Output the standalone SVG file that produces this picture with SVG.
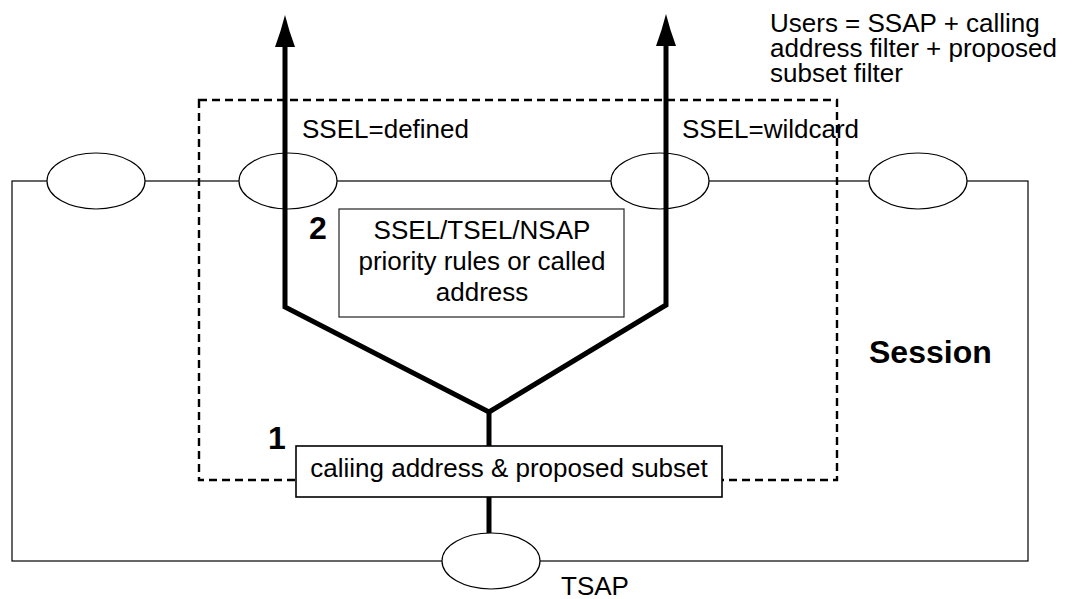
<svg xmlns="http://www.w3.org/2000/svg" width="1075" height="599" viewBox="0 0 1075 599">
  <style>
    .frame { fill: none; stroke: #000; stroke-width: 1.2; }
    .sap { fill: #fff; stroke: #000; stroke-width: 1.2; }
    .scope { fill: none; stroke: #000; stroke-width: 2.4; stroke-dasharray: 8 5; }
    .box { fill: #fff; stroke: #222; stroke-width: 1.2; }
    .box1 { fill: #fff; stroke: #000; stroke-width: 1.6; }
    .flow { fill: none; stroke: #000; stroke-width: 5; stroke-linejoin: miter; }
    .t { font-family: "Liberation Sans", Arial, Helvetica, sans-serif; font-size: 26px; fill: #000; }
    .b { font-family: "Liberation Sans", Arial, Helvetica, sans-serif; font-size: 32px; font-weight: bold; fill: #000; }
    .c { text-anchor: middle; }
  </style>
  <defs>
    <marker id="head" viewBox="0 0 32 20" refX="1" refY="10" markerWidth="32" markerHeight="20" markerUnits="userSpaceOnUse" orient="auto">
      <path d="M0,0 Q16,6 32,10 Q16,14 0,20 Z" fill="#000"/>
    </marker>
  </defs>

  <!-- session layer boundary -->
  <g id="session-frame">
    <rect class="frame" x="12" y="181" width="1016" height="380"/>
    <text class="b" x="869" y="363">Session</text>
  </g>

  <!-- service access points on the upper edge -->
  <g id="sap-1"><ellipse class="sap" cx="96" cy="181" rx="49" ry="28"/></g>
  <g id="sap-2"><ellipse class="sap" cx="288" cy="181" rx="49" ry="28"/></g>
  <g id="sap-3"><ellipse class="sap" cx="660" cy="181" rx="49" ry="28"/></g>
  <g id="sap-4"><ellipse class="sap" cx="918" cy="181" rx="49" ry="28"/></g>

  <!-- transport access point -->
  <g id="tsap">
    <ellipse class="sap" cx="491" cy="561" rx="49" ry="28"/>
    <text class="t" x="561" y="595">TSAP</text>
  </g>

  <!-- dashed selection scope -->
  <g id="selection-scope">
    <rect class="scope" x="199" y="100" width="638" height="380"/>
  </g>

  <!-- step 2: priority rules -->
  <g id="step-2">
    <rect class="box" x="339" y="209" width="285" height="108"/>
    <text class="t c" x="482" y="239">SSEL/TSEL/NSAP</text>
    <text class="t c" x="482" y="270">priority rules or called</text>
    <text class="t c" x="482" y="301">address</text>
    <text class="b" x="309" y="239">2</text>
  </g>

  <!-- routing paths -->
  <g id="connectors">
    <path class="flow" d="M489,533 L489,412"/>
    <path class="flow" d="M489,412 L285,307 L285,46" marker-end="url(#head)"/>
    <path class="flow" d="M489,412 L666,305 L666,45" marker-end="url(#head)"/>
  </g>

  <!-- step 1: calling address filter -->
  <g id="step-1">
    <rect class="box1" x="296" y="446" width="426" height="51"/>
    <text class="t c" x="509" y="477">caliing address &amp; proposed subset</text>
    <text class="b" x="268" y="449">1</text>
  </g>

  <!-- path labels -->
  <g id="label-defined"><text class="t" x="302" y="138">SSEL=defined</text></g>
  <g id="label-wildcard"><text class="t" x="682" y="138">SSEL=wildcard</text></g>

  <g id="users-note">
    <text class="t" x="770" y="32">Users = SSAP + calling</text>
    <text class="t" x="770" y="57">address filter + proposed</text>
    <text class="t" x="770" y="82">subset filter</text>
  </g>
</svg>
